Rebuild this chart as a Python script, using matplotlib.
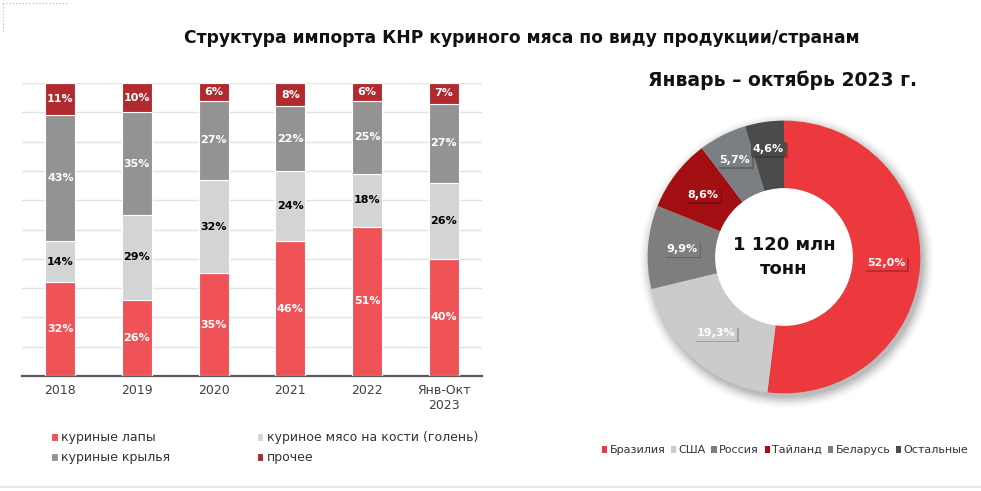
import matplotlib
matplotlib.use("Agg")
import matplotlib.pyplot as plt
import matplotlib.patheffects as pe
import numpy as np
from matplotlib.lines import Line2D
from matplotlib.patches import Circle

plt.rcParams["font.family"] = ["DejaVu Sans"]

# --- данные: структура импорта по виду продукции, % ---
periods = ["2018", "2019", "2020", "2021", "2022", "Янв-Окт\n2023"]
paws = [32, 26, 35, 46, 51, 40]
drumstick = [14, 29, 32, 24, 18, 26]
wings = [43, 35, 27, 22, 25, 27]
other = [11, 10, 6, 8, 6, 7]

series_names = ["куриные лапы", "куриное мясо на кости (голень)", "куриные крылья", "прочее"]
series_colors = ["#EF5257", "#D3D4D6", "#939393", "#B12A2F"]
label_colors = ["white", "black", "white", "white"]

# --- данные: по странам, янв-окт 2023, % ---
countries = ["Бразилия", "США", "Россия", "Тайланд", "Беларусь", "Остальные"]
shares = [52.0, 19.3, 9.9, 8.6, 5.7, 4.6]
country_colors = ["#EC393D", "#CACBCD", "#7E7E7E", "#A20E11", "#7B7E82", "#4B4B4B"]

W, H = 981, 491
fig = plt.figure(figsize=(W / 100, H / 100), dpi=100)

fig.text(522 / W, 1 - 38 / H, "Структура импорта КНР куриного мяса по виду продукции/странам",
         ha="center", va="center", fontsize=12.3, fontweight="bold", color="#111111")

# ---------------- столбчатая диаграмма ----------------
ax = fig.add_axes([22 / W, 1 - 376 / H, 460 / W, 293 / H])
x = np.arange(len(periods))
bottom = np.zeros(len(periods))
for vals, name, col, lc in zip([paws, drumstick, wings, other], series_names, series_colors, label_colors):
    vals = np.array(vals, dtype=float)
    ax.bar(x, vals, width=0.39, bottom=bottom, color=col, edgecolor="white",
           linewidth=0.8, label=name, zorder=3)
    for xi, b, v in zip(x, bottom, vals):
        ax.text(xi, b + v / 2, f"{v:.0f}%", ha="center", va="center", fontsize=8,
                fontweight="bold", color=lc, zorder=4)
    bottom += vals

ax.set_xlim(-0.5, 5.5)
ax.set_ylim(0, 100)
ax.set_yticks(np.arange(0, 101, 10))
ax.yaxis.grid(True, color="#E3E3E3", linewidth=1, zorder=0)
ax.set_yticklabels([])
ax.tick_params(axis="y", length=0)
ax.set_xticks(x)
ax.set_xticklabels(periods, fontsize=9, color="#404040")
ax.tick_params(axis="x", length=0, pad=6)
for s in ["top", "right", "left"]:
    ax.spines[s].set_visible(False)
ax.spines["bottom"].set_color("#595959")
ax.spines["bottom"].set_linewidth(1.6)
ax.set_axisbelow(True)

h, l = ax.get_legend_handles_labels()
order = [0, 2, 1, 3]
fig.legend([h[i] for i in order], [l[i] for i in order], ncol=2,
           loc="upper left", bbox_to_anchor=(40 / W, 1 - 420 / H), frameon=False,
           fontsize=9, handlelength=0.5, handleheight=0.6, handletextpad=0.3,
           columnspacing=6.9, labelspacing=0.55, labelcolor="#333333")

# ---------------- кольцевая диаграмма ----------------
fig.text(782 / W, 1 - 80 / H, "Январь – октябрь 2023 г.", ha="center", va="center",
         fontsize=13.5, fontweight="bold", color="#111111")

ax2 = fig.add_axes([(784 - 150) / W, 1 - (257 + 150) / H, 300 / W, 300 / H])

# мягкая тень вокруг кольца
for r, a in zip(np.linspace(1.08, 1.0, 8), np.linspace(0.012, 0.06, 8)):
    ax2.add_patch(Circle((0.02, -0.03), r, color="black", alpha=a, lw=0, zorder=0))

wedges, _ = ax2.pie(shares, colors=country_colors, startangle=90, counterclock=False,
                    radius=1.0, wedgeprops=dict(width=0.5, edgecolor="none"))
for w in wedges:
    w.set_zorder(2)
ax2.add_patch(Circle((0, 0), 0.5, color="white", zorder=3))
ax2.set_xlim(-1.1, 1.1)
ax2.set_ylim(-1.1, 1.1)
ax2.set_aspect("equal")
ax2.axis("off")

for w, v, col in zip(wedges, shares, country_colors):
    ang = np.deg2rad((w.theta1 + w.theta2) / 2)
    r = 0.75 if v > 7 else 0.8
    t = ax2.text(r * np.cos(ang), r * np.sin(ang), f"{v:.1f}%".replace(".", ","),
                 ha="center", va="center", fontsize=8, fontweight="bold", color="white",
                 zorder=5, bbox=dict(boxstyle="square,pad=0.2", facecolor=col, edgecolor="none"))
    t.get_bbox_patch().set_path_effects([pe.SimplePatchShadow(offset=(1.2, -1.2), alpha=0.3), pe.Normal()])

ax2.text(0, 0, "1 120 млн\nтонн", ha="center", va="center", fontsize=13, fontweight="bold",
         color="#111111", linespacing=1.4, zorder=6)

fig.legend(wedges, countries, ncol=6, loc="center", bbox_to_anchor=(785 / W, 1 - 450 / H),
           frameon=False, fontsize=8, handlelength=0.5, handleheight=0.6, handletextpad=0.2,
           columnspacing=0.5, labelcolor="#333333")

# рамки оформления
fig.add_artist(Line2D([0, 1], [1 - 487 / H] * 2, color="#E4E4E4", lw=1.2))
fig.add_artist(Line2D([2 / W, 68 / W], [1 - 3 / H] * 2, color="#C8C8C8", lw=0.8, ls=(0, (1.5, 1.5))))
fig.add_artist(Line2D([3 / W, 3 / W], [1 - 3 / H, 1 - 32 / H], color="#C8C8C8", lw=0.8, ls=(0, (1.5, 1.5))))

fig.savefig("out.png", dpi=100)
